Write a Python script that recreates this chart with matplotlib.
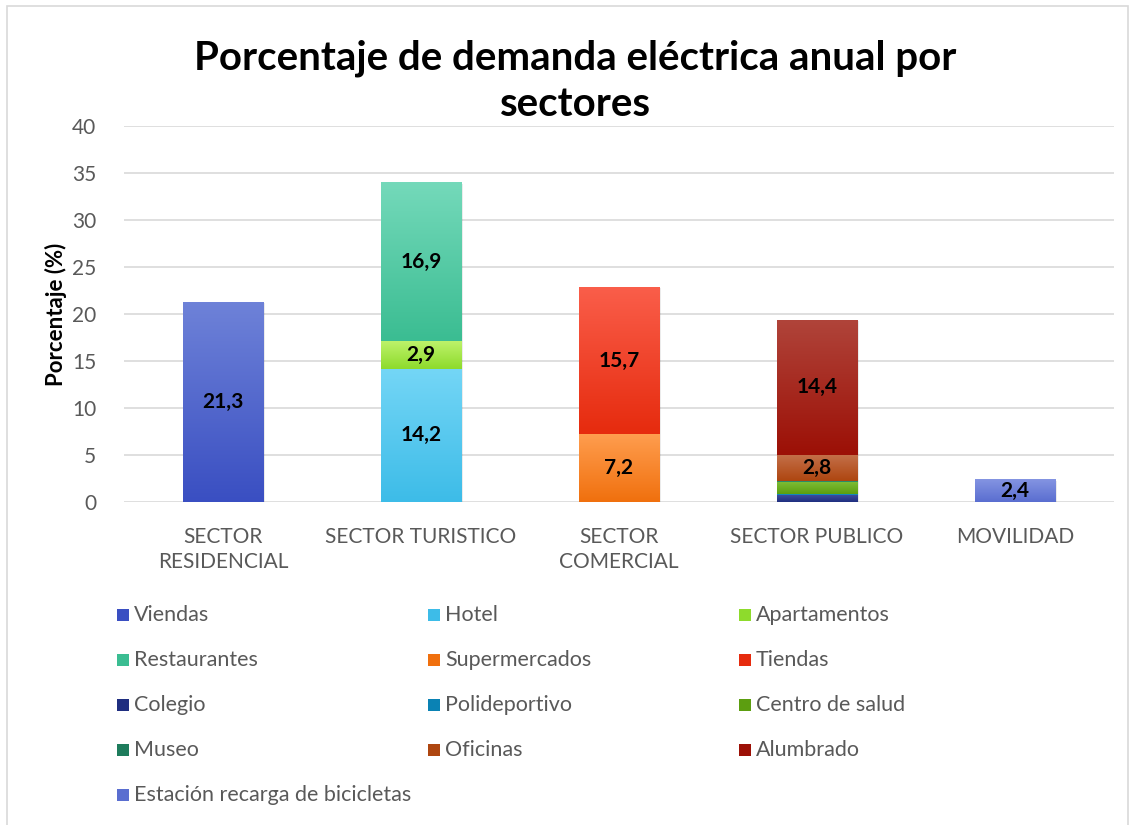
import numpy as np
import matplotlib
matplotlib.use("Agg")
import matplotlib.pyplot as plt
from matplotlib.colors import to_rgb
from matplotlib.patches import Rectangle

plt.rcParams['font.family'] = ['Lato', 'DejaVu Sans']

categories = ["SECTOR\nRESIDENCIAL", "SECTOR TURISTICO", "SECTOR\nCOMERCIAL",
              "SECTOR PUBLICO", "MOVILIDAD"]

viendas = [21.3, 0, 0, 0, 0]
hotel = [0, 14.2, 0, 0, 0]
apartamentos = [0, 2.9, 0, 0, 0]
restaurantes = [0, 16.9, 0, 0, 0]
supermercados = [0, 0, 7.2, 0, 0]
tiendas = [0, 0, 15.7, 0, 0]
colegio = [0, 0, 0, 0.7, 0]
polideportivo = [0, 0, 0, 0.2, 0]
centro_salud = [0, 0, 0, 1.2, 0]
museo = [0, 0, 0, 0.1, 0]
oficinas = [0, 0, 0, 2.8, 0]
alumbrado = [0, 0, 0, 14.4, 0]
estacion = [0, 0, 0, 0, 2.4]

# (name, values, top colour, bottom colour, show value label)
series = [
    ("Viendas", viendas, "#6e82d8", "#3a4fc2", True),
    ("Hotel", hotel, "#74d6f6", "#3dbce8", True),
    ("Apartamentos", apartamentos, "#bdf26a", "#8edb2c", True),
    ("Restaurantes", restaurantes, "#74d9ba", "#3bbd92", True),
    ("Supermercados", supermercados, "#ff9d4e", "#f0700e", True),
    ("Tiendas", tiendas, "#fa5e4a", "#e62b0e", True),
    ("Colegio", colegio, "#3c4c9c", "#1f2e80", False),
    ("Polideportivo", polideportivo, "#2aa0cc", "#0a82b4", False),
    ("Centro de salud", centro_salud, "#7cbc34", "#5c9e10", False),
    ("Museo", museo, "#3a9a78", "#1e7c5c", False),
    ("Oficinas", oficinas, "#c4704a", "#ae4610", True),
    ("Alumbrado", alumbrado, "#b0443a", "#9c1006", True),
    ("Estación recarga de bicicletas", estacion, "#8494e2", "#5a6ed0", True),
]

fig = plt.figure(figsize=(11.34, 8.25), dpi=100)
W, H = 1134, 825
ax = fig.add_axes([124 / W, 1 - 502 / H, (1114 - 124) / W, (502 - 126) / H])

# outer chart frame
fig.patches.append(Rectangle((7 / W, -0.01), (1128 - 7) / W, 1 - 6 / H + 0.01,
                             transform=fig.transFigure, fill=False,
                             edgecolor="#d9d9d9", linewidth=1.2))

x = np.arange(len(categories))
width = 0.405
bottom = np.zeros(len(categories))


def gradient_img(target_ax, extent, top, bot, clip):
    t = np.array(to_rgb(top))
    b = np.array(to_rgb(bot))
    grad = np.linspace(0, 1, 64)[:, None]
    img = (t[None, :] * (1 - grad) + b[None, :] * grad)[:, None, :]
    im = target_ax.imshow(img, extent=extent, origin="upper", aspect="auto",
                          zorder=3, interpolation="bilinear")
    im.set_clip_path(clip)
    return im


for name, vals, top, bot, show in series:
    vals = np.array(vals, dtype=float)
    bars = ax.bar(x, vals, width, bottom=bottom, color=bot, zorder=2,
                  linewidth=0, label=name)
    for p, v, b0 in zip(bars, vals, bottom):
        if v > 0:
            x0 = p.get_x()
            gradient_img(ax, (x0, x0 + p.get_width(), b0, b0 + v), top, bot, p)
            if show:
                ax.text(x0 + p.get_width() / 2, b0 + v / 2,
                        f"{v:.1f}".replace(".", ","), ha="center", va="center",
                        fontsize=15, fontweight="bold", color="black", zorder=5)
    bottom += vals

# soft shadow beneath each stack
for xi, tot in zip(x, bottom):
    ax.add_patch(Rectangle((xi - width / 2 + 0.01, -0.25), width, tot + 0.1,
                           facecolor="#000000", alpha=0.08, zorder=1.5,
                           linewidth=0))

ax.set_xlim(-0.5, len(categories) - 0.5)
ax.set_ylim(0, 40)
ax.set_yticks(np.arange(0, 41, 5))
ax.yaxis.grid(True, color="#d9d9d9", linewidth=1.2, zorder=0)
ax.set_axisbelow(True)
for s in ax.spines.values():
    s.set_visible(False)
ax.tick_params(axis="both", length=0, labelsize=15, labelcolor="#595959")
ax.tick_params(axis="y", pad=20)
ax.tick_params(axis="x", pad=18)
ax.set_xticks(x)
ax.set_xticklabels(categories, linespacing=1.3)
ax.set_ylabel("Porcentaje (%)", fontsize=16, fontweight="bold", color="black")
ax.yaxis.set_label_coords((67 - 124) / 990, 0.5)

fig.text(575 / W, 1 - 81 / H, "Porcentaje de demanda eléctrica anual por\nsectores",
         ha="center", va="center", fontsize=29, fontweight="bold",
         color="black", linespacing=1.3)

# legend laid out row by row in three columns
leg_x0, leg_dx = 117, 311
leg_y0, leg_dy = 615, 45
msz = 12
for i, (name, vals, top, bot, show) in enumerate(series):
    r, c = divmod(i, 3)
    lx = leg_x0 + c * leg_dx
    ly = leg_y0 + r * leg_dy
    bx0, by0 = lx / W, 1 - (ly + msz / 2) / H
    box = Rectangle((bx0, by0), msz / W, msz / H, transform=fig.transFigure,
                    facecolor=bot, edgecolor="none")
    fig.patches.append(box)
    fig.text((lx + msz + 5) / W, 1 - ly / H, name, ha="left", va="center",
             fontsize=15.5, color="#595959")

fig.savefig("out.png", dpi=100)
